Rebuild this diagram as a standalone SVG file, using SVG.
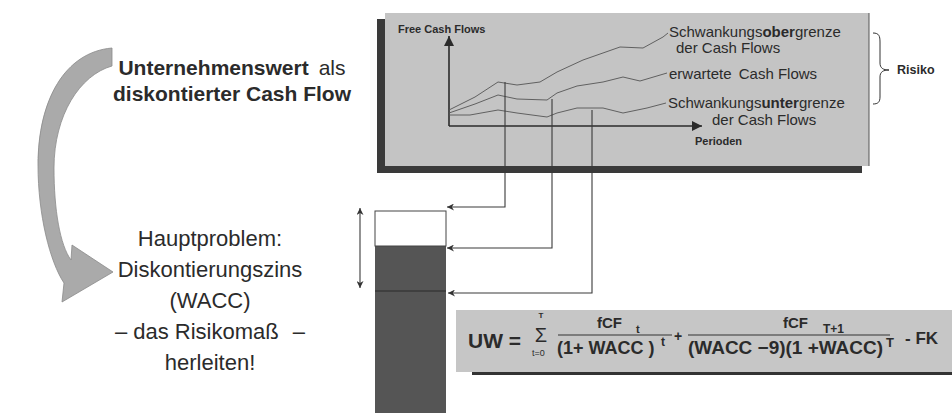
<svg xmlns="http://www.w3.org/2000/svg" width="952" height="413" viewBox="0 0 952 413">
<style>
text{font-family:"Liberation Sans",Arial,"DejaVu Sans",sans-serif;fill:#2b2b2b}
.b{font-weight:bold}
.lbl{font-size:15px}
.conn{fill:none;stroke:#3a3a3a;stroke-width:1.1}
.curve{fill:none;stroke:#555;stroke-width:0.9}
.axis{fill:none;stroke:#2b2b2b;stroke-width:1.6}
</style>
<defs>
<marker id="ah" viewBox="0 0 10 10" refX="10" refY="5" markerWidth="9" markerHeight="7" orient="auto" markerUnits="userSpaceOnUse">
<path d="M0,0 L10,5 L0,10 L3,5 Z" fill="#333"/>
</marker>
<marker id="axh" viewBox="0 0 10 10" refX="10" refY="5" markerWidth="12" markerHeight="10" orient="auto" markerUnits="userSpaceOnUse">
<path d="M0,0 L10,5 L0,10 Z" fill="#2b2b2b"/>
</marker>
<marker id="dh" viewBox="0 0 10 10" refX="10" refY="5" markerWidth="8" markerHeight="7" orient="auto-start-reverse" markerUnits="userSpaceOnUse">
<path d="M0,0 L10,5 L0,10 L3,5 Z" fill="#333"/>
</marker>
</defs>

<g id="curved-arrow">
<path d="M112,48 C65,52 38,100 38,165 C38,215 50,262 64,283 L62,302 L113,272 L72,245 L71,260 C60,245 54,210 54,168 C54,115 80,75 112,66 Z" fill="#aaaaaa" stroke="#8a8a8a" stroke-width="0.8"/>
</g>

<g id="text-top">
<text x="232" y="75" text-anchor="middle" font-size="21"><tspan class="b">Unternehmenswert</tspan><tspan dx="10">als</tspan></text>
<text x="232" y="101" text-anchor="middle" font-size="21" class="b">diskontierter Cash Flow</text>
</g>

<g id="text-bottom">
<text x="210" y="246" text-anchor="middle" font-size="22">Hauptproblem:</text>
<text x="210" y="277" text-anchor="middle" font-size="22">Diskontierungszins</text>
<text x="210" y="308" text-anchor="middle" font-size="22">(WACC)</text>
<text x="210" y="339" text-anchor="middle" font-size="22">– das Risikomaß <tspan dx="8">–</tspan></text>
<text x="210" y="370" text-anchor="middle" font-size="22">herleiten!</text>
</g>

<g id="chart">
<rect x="377" y="19" width="485" height="154" fill="#3a3a3a"/>
<rect x="385" y="13" width="484" height="153" fill="#c4c4c4"/>
<line x1="869" y1="13" x2="869" y2="166" stroke="#555" stroke-width="1"/>
<text x="398" y="33" font-size="11" class="b">Free Cash Flows</text>
<line class="axis" x1="449" y1="126" x2="449" y2="36" marker-end="url(#axh)"/>
<line class="axis" x1="449" y1="126" x2="702" y2="126" marker-end="url(#axh)"/>
<text x="695" y="145" font-size="11" class="b">Perioden</text>
<polyline class="curve" points="449,110 475,97 498,82 517,85 540,82 557,72 583,60 620,47 643,48 663,37 668,33"/>
<polyline class="curve" points="449,113 475,104 498,95 517,99 547,100 557,93 577,86 603,82 623,77 640,81 667,73"/>
<polyline class="curve" points="449,115 470,115 498,110 517,113 547,117 557,113 577,108 603,108 623,113 647,108 666,103"/>
<text x="669" y="37" class="lbl">Schwankungs<tspan class="b">ober</tspan>grenze</text>
<text x="676" y="53" class="lbl">der Cash Flows</text>
<text x="669" y="79" class="lbl">erwartete <tspan dx="3">Cash Flows</tspan></text>
<text x="668" y="108" class="lbl">Schwankungs<tspan class="b">unter</tspan>grenze</text>
<text x="712" y="125" class="lbl">der Cash Flows</text>
</g>

<g id="risiko">
<path d="M873,33 C879,33 880,36 880,42 L880,63 C880,68 883,70 889,70 C883,70 880,72 880,77 L880,97 C880,102 878,104 873,104" fill="none" stroke="#333" stroke-width="1"/>
<text x="897" y="74" font-size="12.5" class="b">Risiko</text>
</g>

<g id="bar">
<rect x="375" y="246" width="71" height="170" fill="#555"/>
<rect x="375" y="211" width="71" height="35" fill="#fff" stroke="#444" stroke-width="1"/>
<line x1="375" y1="291" x2="446" y2="291" stroke="#2a2a2a" stroke-width="1.2"/>
</g>

<g id="formula">
<rect x="472" y="371" width="480" height="4" fill="#333"/>
<rect x="456" y="310" width="496" height="62" fill="#c6c6c6"/>
<text x="468" y="348" font-size="20" class="b" textLength="53" lengthAdjust="spacingAndGlyphs">UW =</text>
<text x="541" y="318" font-size="8" class="b" text-anchor="middle">T</text>
<text x="541" y="342" font-size="20" text-anchor="middle">Σ</text>
<text x="532" y="356" font-size="9">t=0</text>
<text x="597" y="328" font-size="15" class="b">fCF</text>
<text x="636" y="333" font-size="11" class="b">t</text>
<line x1="558" y1="335" x2="672" y2="335" stroke="#333" stroke-width="1"/>
<text x="557" y="354" font-size="18" class="b">(1+ WACC )</text>
<text x="661" y="346" font-size="12" class="b">t</text>
<text x="674" y="341" font-size="14" class="b">+</text>
<text x="783" y="328" font-size="15" class="b">fCF</text>
<text x="823" y="333" font-size="12" class="b">T+1</text>
<line x1="688" y1="335" x2="890" y2="335" stroke="#333" stroke-width="1"/>
<text x="688" y="354" font-size="18" class="b" textLength="195" lengthAdjust="spacingAndGlyphs">(WACC −9)(1 +WACC)</text>
<text x="886" y="347" font-size="13" class="b">T</text>
<text x="905" y="344" font-size="17" class="b">- FK</text>
</g>

<g id="connectors">
<path class="conn" d="M505,82 V207 H447" marker-end="url(#ah)"/>
<path class="conn" d="M552,99 V248 H447" marker-end="url(#ah)"/>
<path class="conn" d="M592,110 V293 H448" marker-end="url(#ah)"/>
<line class="conn" x1="360" y1="208" x2="360" y2="288" marker-start="url(#dh)" marker-end="url(#dh)"/>
</g>
</svg>
